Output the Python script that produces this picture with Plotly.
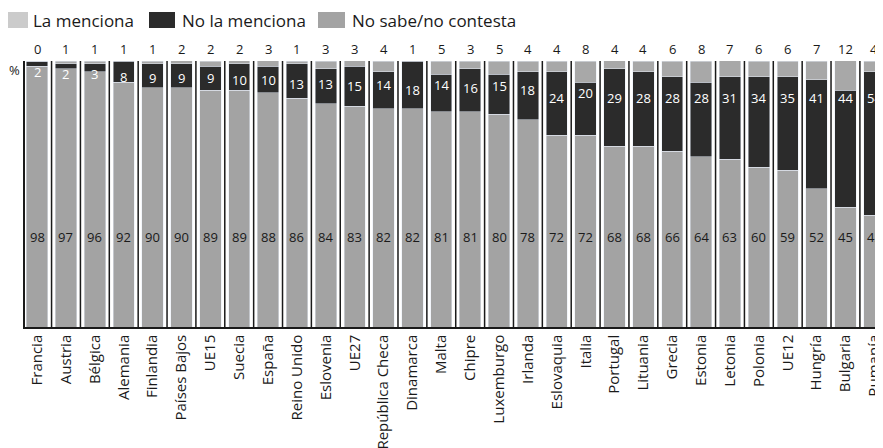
import plotly.graph_objects as go

paises = ["Francia", "Austria", "Bélgica", "Alemania", "Finlandia", "Países Bajos", "UE15", "Suecia",
          "España", "Reino Unido", "Eslovenia", "UE27", "República Checa", "Dinamarca", "Malta", "Chipre",
          "Luxemburgo", "Irlanda", "Eslovaquia", "Italia", "Portugal", "Lituania", "Grecia", "Estonia",
          "Letonia", "Polonia", "UE12", "Hungría", "Bulgaria", "Rumanía"]
la_menciona = [98, 97, 96, 92, 90, 90, 89, 89, 88, 86, 84, 83, 82, 82, 81, 81, 80, 78, 72, 72,
               68, 68, 66, 64, 63, 60, 59, 52, 45, 42]
no_la_menciona = [2, 2, 3, 8, 9, 9, 9, 10, 10, 13, 13, 15, 14, 18, 14, 16, 15, 18, 24, 20,
                  29, 28, 28, 28, 31, 34, 35, 41, 44, 54]
ns_nc = [0, 1, 1, 1, 1, 2, 2, 2, 3, 1, 3, 3, 4, 1, 5, 3, 5, 4, 4, 8,
         4, 4, 6, 8, 7, 6, 6, 7, 12, 4]

# page body has an 8px default margin: compensate
O = 8
W, H = 883 - O, 448 - O
ML, MR, MT, MB = 25 - O, 0, 61 - O, 121
PW, PH = W - ML - MR, H - MT - MB

def px(x):
    return (x - O - ML) / PW

def py(y):
    return (H - MB - (y - O)) / PH

GRAY = "#a3a3a3"
GRAY_TOP = "#a8a8a8"
DARK = "#2b2b2b"
LIGHT = "#cbcbcb"
FONT = "Open Sans"

fig = go.Figure()
fig.add_bar(x=paises, y=la_menciona, marker_color=GRAY, name="La menciona", width=0.74, showlegend=False)
fig.add_bar(x=paises, y=no_la_menciona, marker_color=DARK, name="No la menciona", width=0.74, showlegend=False)
fig.add_bar(x=paises, y=ns_nc, marker_color=GRAY_TOP, name="No sabe/no contesta", width=0.74, showlegend=False)

ann = []
shapes = []
for i, p in enumerate(paises):
    ann.append(dict(x=p, y=34, xref="x", yref="y", text=str(la_menciona[i]), showarrow=False,
                    yanchor="middle", font=dict(family=FONT, size=13, color="#1a1a1a")))
    top = la_menciona[i] + no_la_menciona[i]
    ym = max(86, min(98 - 0.5 * no_la_menciona[i], top - 4))
    ann.append(dict(x=p, y=ym, xref="x", yref="y", text=str(no_la_menciona[i]), showarrow=False,
                    yanchor="middle", font=dict(family=FONT, size=13, color="white")))
    ann.append(dict(x=p, y=100, xref="x", yref="y", yanchor="bottom", yshift=1, text=str(ns_nc[i]),
                    showarrow=False, font=dict(family=FONT, size=13, color="#1a1a1a")))
    if i < len(paises) - 1:
        shapes.append(dict(type="line", xref="x", yref="y", x0=i + 0.5, x1=i + 0.5, y0=0, y1=100,
                           line=dict(color="#1a1a1a", width=1.5)))

ann.append(dict(x=px(14), y=py(70), xref="paper", yref="paper", text="%", showarrow=False,
                xanchor="center", yanchor="middle", font=dict(family=FONT, size=13, color="#1a1a1a")))

leg = [("La menciona", LIGHT, 2, 28, 31), ("No la menciona", DARK, 149, 175, 180),
       ("No sabe/no contesta", GRAY, 318, 345, 350)]
for name, col, x0, x1, xt in leg:
    shapes.append(dict(type="rect", xref="paper", yref="paper", x0=px(x0), x1=px(x1), y0=py(28), y1=py(12),
                       fillcolor=col, line=dict(width=0)))
    ann.append(dict(x=px(xt), y=py(20), xref="paper", yref="paper", text=name, showarrow=False,
                    xanchor="left", yanchor="middle", font=dict(family=FONT, size=17, color="#1a1a1a")))

fig.update_layout(
    barmode="stack",
    width=W, height=H,
    margin=dict(l=ML, r=MR, t=MT, b=MB, autoexpand=False),
    paper_bgcolor="white", plot_bgcolor="white",
    annotations=ann, shapes=shapes,
    xaxis=dict(range=[-0.42, 29.3], tickangle=-90, showgrid=False, showline=True, linecolor="#1a1a1a",
               linewidth=1.5, ticks="", automargin=False, ticklabeloverflow="allow",
               tickfont=dict(family=FONT, size=15, color="#1a1a1a")),
    yaxis=dict(range=[0, 100], showgrid=False, showticklabels=False, showline=True, linecolor="#1a1a1a",
               linewidth=1.5, ticks="", zeroline=False, automargin=False),
)
fig.write_html("out.html")
